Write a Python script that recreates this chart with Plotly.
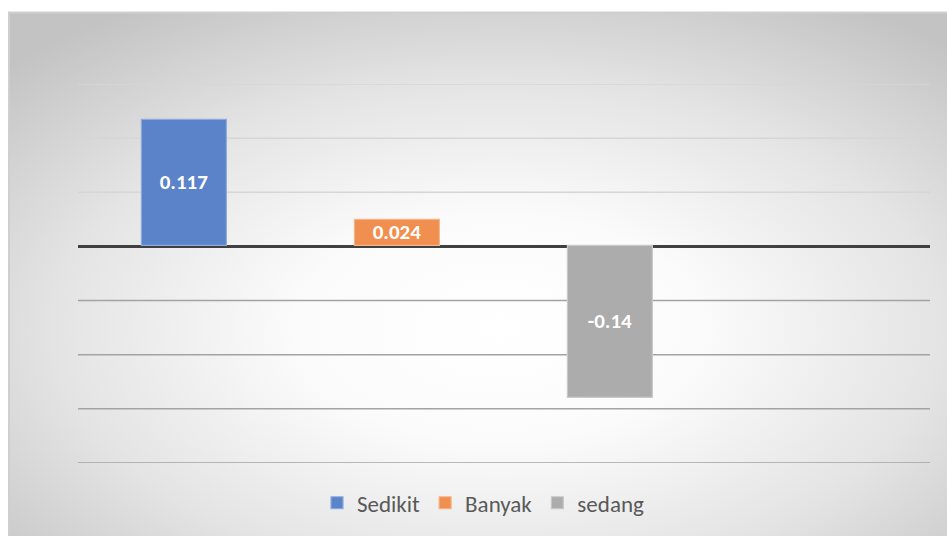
import base64
import numpy as np
import plotly.graph_objects as go

# ---- data ----
series_names = ["Sedikit", "Banyak", "sedang"]
series_values = [0.117, 0.024, -0.14]
label_texts = ["0.117", "0.024", "-0.14"]
slot_positions = [0, 1, 2]
y_min, y_max, y_step = -0.2, 0.15, 0.05

fill_colors = ["#5a83c9", "#f08f4f", "#acacac"]
edge_colors = ["#8eaadb", "#f5b48a", "#c9c9c9"]

W, H = 947, 536
ML, MR, MT, MB = 78, 17, 84, 71
plot_w = W - ML - MR
plot_h = H - MT - MB
CA_X, CA_Y = 8, 12  # chart-area top-left in px

FONT = "Carlito, Calibri, Lato, sans-serif"

fig = go.Figure()
for name, val, txt, pos, fc, ec in zip(series_names, series_values, label_texts,
                                       slot_positions, fill_colors, edge_colors):
    fig.add_trace(go.Bar(
        x=[pos], y=[val], name=name, width=0.4,
        marker=dict(color=fc, line=dict(color=ec, width=1.2)),
        text=[txt], textposition="inside", insidetextanchor="middle",
        textangle=0, constraintext="none",
        textfont=dict(family=FONT, size=21, color="white", weight="bold"),
        hoverinfo="skip",
    ))

# radial gradient background of the chart area
svg = f"""<svg xmlns='http://www.w3.org/2000/svg' width='939' height='530' viewBox='0 0 939 530' preserveAspectRatio='none'>
<defs><radialGradient id='g' cx='0.52' cy='0.6' r='0.72' fx='0.52' fy='0.6'>
<stop offset='0' stop-color='#ffffff'/>
<stop offset='0.3' stop-color='#fbfbfb'/>
<stop offset='0.65' stop-color='#e4e4e4'/>
<stop offset='1' stop-color='#c3c3c3'/>
</radialGradient></defs>
<rect x='0' y='0' width='939' height='530' fill='url(#g)'/>
</svg>"""
uri = "data:image/svg+xml;base64," + base64.b64encode(svg.encode()).decode()
fig.add_layout_image(dict(
    source=uri, xref="paper", yref="paper",
    x=(CA_X - ML) / plot_w, y=(H - MB - CA_Y) / plot_h,
    sizex=(W + 4 - CA_X) / plot_w, sizey=(H + 6 - CA_Y) / plot_h,
    xanchor="left", yanchor="top", sizing="stretch", layer="below",
))

# top/left border of chart area
fig.add_shape(type="line", xref="paper", yref="paper",
              x0=(CA_X - ML) / plot_w, x1=(W - ML) / plot_w,
              y0=(H - MB - CA_Y) / plot_h, y1=(H - MB - CA_Y) / plot_h,
              line=dict(color="#cfcfcf", width=2))
fig.add_shape(type="line", xref="paper", yref="paper",
              x0=(CA_X - ML + 1) / plot_w, x1=(CA_X - ML + 1) / plot_w,
              y0=(H - MB - CA_Y) / plot_h, y1=-MB / plot_h,
              line=dict(color="#cfcfcf", width=2))

# gridlines (lighter above zero, darker below)
grid_vals = np.round(np.arange(y_min, y_max + 1e-9, y_step), 3)
for gv in grid_vals:
    if abs(gv) < 1e-9:
        continue
    col = "#d6d6d6" if gv > 0 else "#a3a3a3"
    fig.add_shape(type="line", xref="paper", yref="y", x0=0, x1=1, y0=gv, y1=gv,
                  line=dict(color=col, width=1.5), layer="below")

fig.update_layout(
    width=W, height=H,
    margin=dict(l=ML, r=MR, t=MT, b=MB, pad=0),
    paper_bgcolor="white", plot_bgcolor="rgba(0,0,0,0)",
    barmode="overlay", bargap=0,
    showlegend=True,
    legend=dict(orientation="h", x=(483 - ML) / plot_w, xanchor="center",
                y=-(505 - (H - MB)) / plot_h, yanchor="middle",
                font=dict(family=FONT, size=23, color="#595959"),
                bgcolor="rgba(0,0,0,0)", itemwidth=30, traceorder="normal",
                itemclick=False),
    xaxis=dict(range=[-0.5, 3.5], showticklabels=False, showgrid=False,
               zeroline=False, showline=False, ticks=""),
    yaxis=dict(range=[y_min, y_max], showticklabels=False, showgrid=False,
               zeroline=True, zerolinecolor="#404040", zerolinewidth=3,
               showline=False, ticks=""),
)

fig.write_html(
    "out.html",
    config={"displayModeBar": False},
    post_script="document.body.style.margin='0';document.body.style.overflow='hidden';",
)
